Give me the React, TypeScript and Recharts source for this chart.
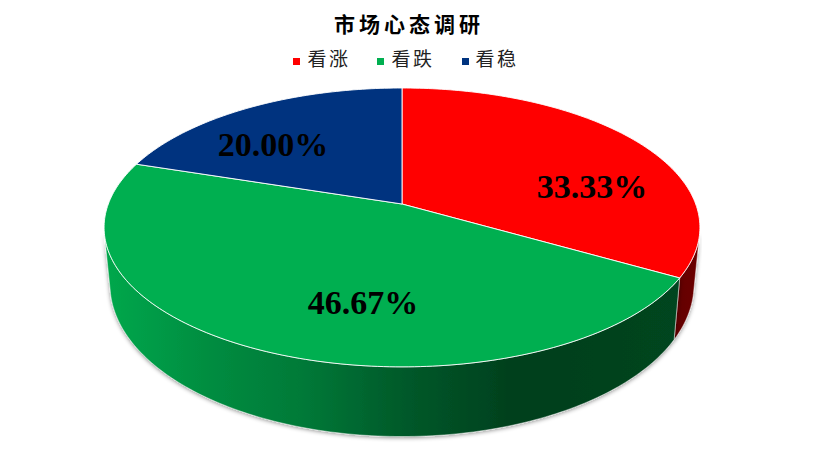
import { PieChart, Pie, Legend } from "recharts";

const NAMES = ["看涨", "看跌", "看稳"];
const VALUES = [5, 7, 3];
const COLORS = ["#FF0000", "#00AF50", "#00337F"];
const WALLS = ["url(#wallRed)", "url(#wallGreen)", "#00245A"];

const data = NAMES.map((name, i) => ({ name, value: VALUES[i], fill: COLORS[i] }));

// where the percent labels sit, relative to the pie apex
const LABEL_SPOTS = [
  { dx: 190, dy: -18 },
  { dx: -39, dy: 98 },
  { dx: -129, dy: -60 },
];

const CX = 402;
const CY = 204;
// only this part of the rim faces the viewer (recharts angles)
const RIM_FROM = -13;
const RIM_TO = -167;

// the tilted disc: a circle pushed through a perspective projection
function topPoint(deg: number) {
  const t = ((90 - deg) * Math.PI) / 180;
  const w = 1 + 0.168 * Math.cos(t);
  return [CX + (293.7 * Math.sin(t)) / w, CY - (135.5 * Math.cos(t)) / w];
}

function bottomPoint(deg: number) {
  const [x, y] = topPoint(deg);
  return [CX + (x - CX) * 0.98, CY + 55 + (y - CY) * 1.09];
}

function arc(from: number, to: number, fn: (d: number) => number[]) {
  const n = Math.max(2, Math.ceil(Math.abs(to - from)));
  const pts: string[] = [];
  for (let i = 0; i <= n; i++) {
    const [x, y] = fn(from + ((to - from) * i) / n);
    pts.push(x.toFixed(2) + " " + y.toFixed(2));
  }
  return pts;
}

function TopFace(props: any) {
  const pts = arc(props.startAngle, props.endAngle, topPoint);
  return <path d={"M" + CX + " " + CY + "L" + pts.join("L") + "Z"} fill={props.fill} stroke="#fff" strokeWidth={0.9} strokeLinejoin="round" />;
}

function Wall(props: any) {
  const from = Math.min(props.startAngle, RIM_FROM);
  const to = Math.max(props.endAngle, RIM_TO);
  if (from <= to) return null;
  const upper = arc(from, to, topPoint);
  const lower = arc(to, from, bottomPoint);
  return <path d={"M" + upper.join("L") + "L" + lower.join("L") + "Z"} fill={WALLS[props.index]} stroke="#fff" strokeWidth={0.6} strokeOpacity={0.75} strokeLinejoin="round" filter="url(#wallShadow)" />;
}

function PercentLabel(props: any) {
  const spot = LABEL_SPOTS[props.index];
  return (
    <text x={CX + spot.dx} y={CY + spot.dy} textAnchor="middle" dominantBaseline="central" fontFamily="'Liberation Serif'" fontWeight="bold" fontSize={34} fill="#000">
      {(props.percent * 100).toFixed(2) + "%"}
    </text>
  );
}

export default function App() {
  return (
    <div style={{ position: "absolute", left: 0, top: 0, width: 815, height: 461, background: "#fff" }}>
      <PieChart width={815} height={461} margin={{ top: 0, right: 0, bottom: 0, left: 0 }}>
        <defs>
          <linearGradient id="wallGreen" gradientUnits="userSpaceOnUse" x1={104} y1={0} x2={700} y2={0}>
            <stop offset="0" stopColor="#00A84C" />
            <stop offset="0.18" stopColor="#028C40" />
            <stop offset="0.33" stopColor="#007A38" />
            <stop offset="0.5" stopColor="#005A2A" />
            <stop offset="0.69" stopColor="#013F1D" />
            <stop offset="1" stopColor="#034620" />
          </linearGradient>
          <linearGradient id="wallRed" gradientUnits="userSpaceOnUse" x1={660} y1={0} x2={700} y2={0}>
            <stop offset="0" stopColor="#5C0000" />
            <stop offset="1" stopColor="#6C0000" />
          </linearGradient>
          <filter id="wallShadow" x="-10%" y="-10%" width="120%" height="120%">
            <feDropShadow dx={0} dy={1} stdDeviation={2} floodColor="#000" floodOpacity={0.45} />
          </filter>
        </defs>
        <text x={409} y={23} textAnchor="middle" dominantBaseline="central" fontFamily="'Noto Sans CJK SC'" fontWeight="bold" fontSize={21} letterSpacing={4} fill="#000">
          市场心态调研
        </text>
        <Legend
          verticalAlign="top"
          iconType="square"
          iconSize={7}
          itemSorter={null}
          wrapperStyle={{ top: 44, left: 12, width: 815, fontFamily: "'Noto Sans CJK SC'" }}
          formatter={(v: string) => <span style={{ color: "#222", fontSize: 19, letterSpacing: 2.5, paddingLeft: 3, marginRight: 17 }}>{v}</span>}
        />
        <Pie data={data} dataKey="value" nameKey="name" cx={CX} cy={CY} outerRadius={120} startAngle={90} endAngle={-270} legendType="none" shape={Wall} isAnimationActive={false} />
        <Pie data={data} dataKey="value" nameKey="name" cx={CX} cy={CY} outerRadius={120} startAngle={90} endAngle={-270} shape={TopFace} label={PercentLabel} labelLine={false} isAnimationActive={false} />
      </PieChart>
    </div>
  );
}
